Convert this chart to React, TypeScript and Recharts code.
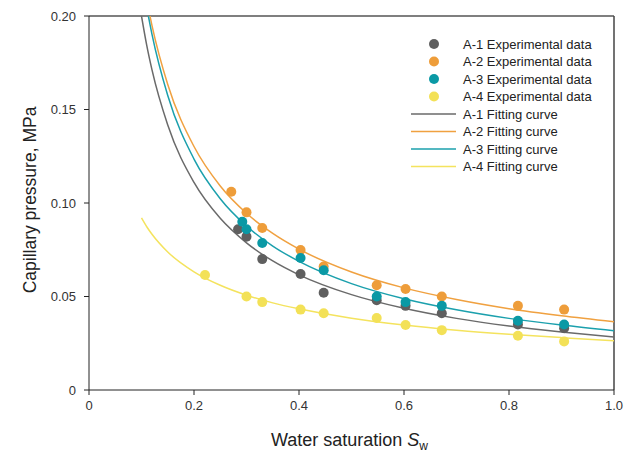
import React from 'react';
import { ComposedChart, Scatter, Line, XAxis, YAxis, ReferenceLine, Legend } from 'recharts';

// Experimental data (water saturation Sw, capillary pressure MPa)
const a1Sw = [0.284, 0.30, 0.33, 0.403, 0.447, 0.548, 0.603, 0.672, 0.817, 0.905];
const a1Pc = [0.086, 0.082, 0.070, 0.062, 0.052, 0.048, 0.045, 0.041, 0.035, 0.033];
const a2Sw = [0.271, 0.30, 0.33, 0.403, 0.447, 0.548, 0.603, 0.672, 0.817, 0.905];
const a2Pc = [0.106, 0.095, 0.0866, 0.0749, 0.066, 0.056, 0.054, 0.050, 0.045, 0.043];
const a3Sw = [0.292, 0.30, 0.33, 0.403, 0.447, 0.548, 0.603, 0.672, 0.817, 0.905];
const a3Pc = [0.090, 0.086, 0.0786, 0.0706, 0.064, 0.050, 0.047, 0.045, 0.037, 0.035];
const a4Sw = [0.221, 0.30, 0.33, 0.403, 0.447, 0.548, 0.603, 0.672, 0.817, 0.905];
const a4Pc = [0.0615, 0.050, 0.047, 0.043, 0.041, 0.0385, 0.0348, 0.032, 0.029, 0.026];

// Fitting curves at these saturations
const fitSw = [0.1, 0.11, 0.12, 0.15, 0.2, 0.25, 0.3, 0.35, 0.4, 0.5, 0.6, 0.7, 0.8, 0.9, 1.0];
const fit1 = [0.2, 0.1843, 0.1712, 0.1417, 0.111, 0.0918, 0.0787, 0.069, 0.0616, 0.051, 0.0437, 0.0383, 0.0342, 0.031, 0.0283];
const fit2 = [0.2251, 0.2087, 0.1949, 0.1634, 0.1302, 0.1091, 0.0945, 0.0837, 0.0753, 0.0631, 0.0546, 0.0484, 0.0435, 0.0397, 0.0365];
const fit3 = [0.2219, 0.2047, 0.1902, 0.1575, 0.1235, 0.1023, 0.0877, 0.077, 0.0688, 0.0569, 0.0488, 0.0429, 0.0383, 0.0347, 0.0317];
const fit4 = [0.092, 0.0873, 0.0833, 0.0738, 0.0632, 0.056, 0.0507, 0.0466, 0.0434, 0.0384, 0.0348, 0.032, 0.0298, 0.028, 0.0264];

const xTicks = [0, 0.2, 0.4, 0.6, 0.8, 1.0];
const yTicks = [0, 0.05, 0.1, 0.15, 0.2];

const colors = ['#5f5f5f', '#ee9d3a', '#0a99a5', '#f3e157'];
const lineColors = ['#6a6a6a', '#f0a140', '#1ba0ad', '#f4e35e'];

const legendLabels = [
  'A-1 Experimental data',
  'A-2 Experimental data',
  'A-3 Experimental data',
  'A-4 Experimental data',
  'A-1 Fitting curve',
  'A-2 Fitting curve',
  'A-3 Fitting curve',
  'A-4 Fitting curve',
];

const toPts = (xs: number[], ys: number[]) => xs.map((x, i) => ({ x, y: ys[i] }));

const scatterSets = [toPts(a1Sw, a1Pc), toPts(a2Sw, a2Pc), toPts(a3Sw, a3Pc), toPts(a4Sw, a4Pc)];
const fitSets = [toPts(fitSw, fit1), toPts(fitSw, fit2), toPts(fitSw, fit3), toPts(fitSw, fit4)];

const FONT = 'Arial, "Liberation Sans", Helvetica, sans-serif';

const dotShape = (color: string) => (props: any) => (
  <circle cx={props.cx} cy={props.cy} r={5} fill={color} stroke="none" />
);

const renderLegend = () => (
  <svg width={225} height={150} style={{ display: 'block' }}>
    {legendLabels.map((label, i) => {
      const y = 9 + i * 17.5;
      const c = i < 4 ? colors[i] : lineColors[i - 4];
      return (
        <g key={label}>
          {i < 4 ? (
            <circle cx={34} cy={y} r={5} fill={c} />
          ) : (
            <line x1={11} x2={56} y1={y} y2={y} stroke={c} strokeWidth={1.5} />
          )}
          <text x={63} y={y} dy="0.35em" fontSize={13} fill="#222" fontFamily={FONT}>
            {label}
          </text>
        </g>
      );
    })}
  </svg>
);

const XTitle = (props: any) => {
  const vb = props.viewBox || {};
  const cx = (vb.x || 0) + (vb.width || 0) / 2;
  return (
    <text x={cx - 2} y={446} textAnchor="middle" fontSize={18} fill="#222" fontFamily={FONT}>
      Water saturation <tspan fontStyle="italic">S</tspan>
      <tspan fontSize={12} dy={4}>w</tspan>
    </text>
  );
};

export default function App() {
  return (
    <div style={{ position: 'absolute', left: 0, top: 0, background: '#fff' }}>
      <ComposedChart
        width={632}
        height={455}
        margin={{ top: 16, right: 18, bottom: 0, left: 0 }}
        style={{ fontFamily: FONT }}
      >
        <XAxis
          type="number"
          dataKey="x"
          domain={[0, 1]}
          ticks={xTicks}
          allowDataOverflow
          height={65}
          tickSize={5}
          tickMargin={6}
          stroke="#222"
          tick={{ fill: '#333', fontSize: 13 }}
          tickFormatter={(v: number) => (v === 0 ? '0' : v.toFixed(1))}
          label={<XTitle />}
        />
        <YAxis
          type="number"
          dataKey="y"
          domain={[0, 0.2]}
          ticks={yTicks}
          allowDataOverflow
          width={89}
          tickSize={5}
          tickMargin={8}
          stroke="#222"
          tick={{ fill: '#333', fontSize: 13 }}
          tickFormatter={(v: number) => (v === 0 ? '0' : v.toFixed(2))}
          label={{
            value: 'Capillary pressure, MPa',
            angle: -90,
            position: 'center',
            dx: -15,
            dy: -3,
            fontSize: 17.5,
            fill: '#222',
          }}
        />
        <ReferenceLine y={0.2} stroke="#555" strokeWidth={1.5} />
        <ReferenceLine x={1} stroke="#444" strokeWidth={1.5} />
        {fitSets.map((d, i) => (
          <Line
            key={'fit' + i}
            data={d}
            dataKey="y"
            type="monotone"
            stroke={lineColors[i]}
            strokeWidth={1.5}
            dot={false}
            activeDot={false}
            isAnimationActive={false}
            legendType="none"
          />
        ))}
        {scatterSets.map((d, i) => (
          <Scatter
            key={'sc' + i}
            data={d}
            dataKey="y"
            fill={colors[i]}
            shape={dotShape(colors[i])}
            isAnimationActive={false}
            legendType="none"
          />
        ))}
        <Legend
          layout="vertical"
          align="center"
          verticalAlign="middle"
          content={renderLegend}
          wrapperStyle={{ position: 'absolute', left: 400, top: 35, width: 225, height: 150 }}
        />
      </ComposedChart>
    </div>
  );
}
